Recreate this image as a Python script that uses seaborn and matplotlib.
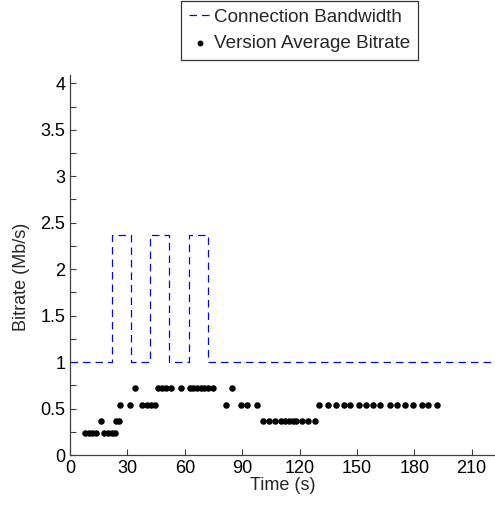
import matplotlib
matplotlib.use("Agg")
import matplotlib.pyplot as plt
import seaborn as sns
import pandas as pd
from matplotlib.ticker import MultipleLocator

# Connection bandwidth (step function, value holds until next change)
bw_time = [0, 22, 32, 42, 52, 62, 72, 222]
bw_rate = [1.0, 2.37, 1.0, 2.37, 1.0, 2.37, 1.0, 1.0]

# Version average bitrate points
seg_time = [8.0, 9.9, 11.7, 13.6, 16.3, 17.8, 19.8, 21.8, 23.6, 24.2, 25.4,
            26.2, 31.4, 33.8, 37.9, 40.5, 42.6, 44.5,
            45.8, 48.0, 50.3, 52.6, 57.8, 62.6, 64.5, 66.4, 68.4, 70.3, 72.3, 75.0,
            81.5, 84.5, 89.2, 92.4, 97.6,
            100.7, 103.9, 107.0, 110.5, 112.5, 114.4, 116.4, 118.3, 121.3, 124.6, 127.9,
            130.2, 135.0, 139.0, 143.0, 146.4, 151.0, 155.0, 158.6, 162.0,
            167.3, 171.1, 175.1, 179.1, 183.8, 187.0, 191.7]
seg_rate = [0.235, 0.235, 0.235, 0.235, 0.37, 0.235, 0.235, 0.235, 0.235, 0.37, 0.37,
            0.54, 0.54, 0.72, 0.54, 0.54, 0.54, 0.54,
            0.72, 0.72, 0.72, 0.72, 0.72, 0.72, 0.72, 0.72, 0.72, 0.72, 0.72, 0.72,
            0.54, 0.72, 0.54, 0.54, 0.54,
            0.37, 0.37, 0.37, 0.37, 0.37, 0.37, 0.37, 0.37, 0.37, 0.37, 0.37,
            0.54, 0.54, 0.54, 0.54, 0.54, 0.54, 0.54, 0.54, 0.54,
            0.54, 0.54, 0.54, 0.54, 0.54, 0.54, 0.54]

x_ticks = [0, 30, 60, 90, 120, 150, 180, 210]
y_ticks = [0, 0.5, 1, 1.5, 2, 2.5, 3, 3.5, 4]

sns.set_theme(style="white")
plt.rcParams['font.family'] = ['Liberation Sans', 'DejaVu Sans']

bw_df = pd.DataFrame({"t": bw_time, "r": bw_rate})
seg_df = pd.DataFrame({"t": seg_time, "r": seg_rate})

fig = plt.figure(figsize=(4.95, 5.08), dpi=100)
ax = fig.add_axes([70 / 495, 53 / 508, 1 - 70 / 495, 380 / 508])

sns.lineplot(data=bw_df, x="t", y="r", ax=ax, drawstyle="steps-post",
             color="#0000ff", linewidth=0.9, linestyle=(0, (6, 4)),
             label="Connection Bandwidth", legend=False)
sns.scatterplot(data=seg_df, x="t", y="r", ax=ax, color="black", s=22,
                edgecolor="black", linewidth=0, label="Version Average Bitrate",
                legend=False)

ax.set_xlim(0, 222.2)
ax.set_ylim(0, 4.09)
ax.set_xticks(x_ticks)
ax.set_xticklabels([str(v) for v in x_ticks])
ax.set_yticks(y_ticks)
ax.set_yticklabels([("%g" % v) for v in y_ticks])
ax.yaxis.set_minor_locator(MultipleLocator(0.25))
ax.tick_params(axis="both", which="both", direction="in", labelsize=13,
               colors="#404040", labelcolor="black", length=4, width=0.8)
ax.tick_params(which="minor", length=4)
ax.tick_params(left=True, bottom=True, which="both")
ax.set_xlabel("Time (s)", fontsize=13, labelpad=0)
ax.set_ylabel("Bitrate (Mb/s)", fontsize=13)
ax.yaxis.set_label_coords(-40 / 425, (455 - 277) / 380)
for side in ["top", "right"]:
    ax.spines[side].set_visible(False)
for side in ["left", "bottom"]:
    ax.spines[side].set_color("#404040")
    ax.spines[side].set_linewidth(0.9)

handles, labels = ax.get_legend_handles_labels()
leg = fig.legend(handles, labels, loc="upper left",
                 bbox_to_anchor=(181 / 495, 1 - 1 / 508), fontsize=13.6,
                 frameon=True, fancybox=False, edgecolor="black",
                 handlelength=1.25, handletextpad=0.12, borderpad=0.4,
                 labelspacing=0.5, borderaxespad=0, markerscale=0.9)
leg.get_frame().set_linewidth(0.9)

fig.savefig("out.png", dpi=100)
